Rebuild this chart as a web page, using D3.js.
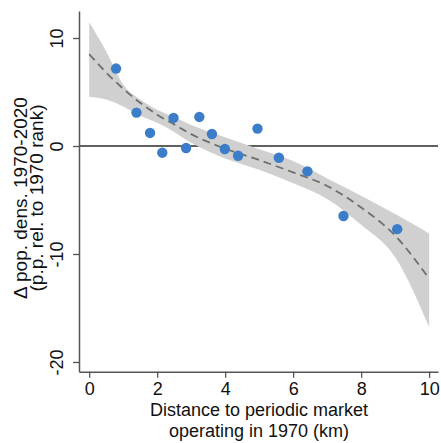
<!DOCTYPE html>
<html>
<head>
<meta charset="utf-8">
<script src="https://cdn.jsdelivr.net/npm/d3@7"></script>
<style>
  body { margin: 0; background: #fff; }
  text { font-family: "Liberation Sans", Arial, sans-serif; fill: #111; }
</style>
</head>
<body>
<script>
// binned points (distance km, change in p.p.)
var binX = [0.79, 1.39, 1.79, 2.15, 2.48, 2.85, 3.24, 3.61, 3.99, 4.38, 4.95, 5.58, 6.42, 7.48, 9.06];
var binY = [7.17, 3.09, 1.21, -0.62, 2.60, -0.19, 2.69, 1.11, -0.28, -0.90, 1.61, -1.09, -2.35, -6.48, -7.70];

// fitted curve and confidence band
var fitX  = [0, 0.5, 1, 1.5, 2, 2.5, 3, 4, 5, 6, 7, 8, 9, 10];
var fitY  = [8.5, 6.8, 5.3, 4.0, 2.9, 2.0, 1.1, -0.25, -1.3, -2.45, -3.7, -5.7, -8.3, -12.3];
var ciHi  = [11.45, 8.75, 5.7, 4.3, 3.35, 2.65, 1.95, 0.8, -0.3, -1.4, -3.0, -4.6, -6.3, -8.1];
var ciLo  = [4.57, 4.3, 3.65, 2.8, 2.15, 1.3, 0.3, -1.15, -2.2, -3.45, -4.9, -7.3, -10.3, -16.76];

var xTicks = [0, 2, 4, 6, 8, 10];
var yTicks = [-20, -10, 0, 10];

var W = 441, H = 443;

var svg = d3.select("body").append("svg")
    .attr("width", W)
    .attr("height", H);

var x = d3.scaleLinear().domain([-0.3, 10.26]).range([79, 438]);
var y = d3.scaleLinear().domain([-20.9, 12.5]).range([371.7, 11]);

// zero reference line (sits under the band)
svg.append("line")
    .attr("x1", x(-0.3)).attr("x2", x(10.26))
    .attr("y1", y(0)).attr("y2", y(0))
    .style("stroke", "#2b2b2b")
    .style("stroke-width", 1.5);

var band = fitX.map(function(d, i) { return {x: d, lo: ciLo[i], hi: ciHi[i], f: fitY[i]}; });

svg.append("path")
    .datum(band)
    .attr("d", d3.area()
        .x(function(d) { return x(d.x); })
        .y0(function(d) { return y(d.lo); })
        .y1(function(d) { return y(d.hi); })
        .curve(d3.curveMonotoneX))
    .style("fill", "#d0d0d0");

svg.append("path")
    .datum(band)
    .attr("d", d3.line()
        .x(function(d) { return x(d.x); })
        .y(function(d) { return y(d.f); })
        .curve(d3.curveMonotoneX))
    .style("fill", "none")
    .style("stroke", "#6e6e6e")
    .style("stroke-width", 1.8)
    .style("stroke-dasharray", "8,5");

svg.selectAll("circle.bin")
    .data(binX)
  .enter().append("circle")
    .attr("class", "bin")
    .attr("cx", function(d) { return x(d); })
    .attr("cy", function(d, i) { return y(binY[i]); })
    .attr("r", 5.2)
    .style("fill", "#3c7dc9");

// axes
var xAxis = svg.append("g")
    .attr("transform", "translate(0," + y(-20.9) + ")")
    .call(d3.axisBottom(x).tickValues(xTicks).tickSize(6).tickSizeOuter(0));

var yAxis = svg.append("g")
    .attr("transform", "translate(" + x(-0.3) + ",0)")
    .call(d3.axisLeft(y).tickValues(yTicks).tickSize(6).tickSizeOuter(0));

[xAxis, yAxis].forEach(function(g) {
  g.select(".domain").style("stroke", "#555").style("stroke-width", 1.5);
  g.selectAll(".tick line").style("stroke", "#555").style("stroke-width", 1.3);
});

xAxis.selectAll(".tick text")
    .attr("y", 23).attr("dy", null)
    .style("font-size", "18px")
    .style("fill", "#111");

yAxis.selectAll(".tick text").remove();
yAxis.selectAll(".tick").append("text")
    .attr("transform", "translate(-16,0) rotate(-90)")
    .attr("text-anchor", "middle")
    .style("font-size", "18px")
    .style("fill", "#111")
    .text(function(d) { return d; });

// axis titles
var xt = svg.append("text")
    .attr("text-anchor", "middle")
    .style("font-size", "18px");
xt.append("tspan").attr("x", 259).attr("y", 416).text("Distance to periodic market");
xt.append("tspan").attr("x", 259).attr("y", 437).text("operating in 1970 (km)");

var yt = svg.append("text")
    .attr("text-anchor", "middle")
    .attr("transform", "translate(0,198) rotate(-90)")
    .style("font-size", "19px");
yt.append("tspan").attr("x", 0).attr("y", 27).text("Δ pop. dens. 1970-2020");
yt.append("tspan").attr("x", 0).attr("y", 43).text("(p.p. rel. to 1970 rank)");
</script>
</body>
</html>
